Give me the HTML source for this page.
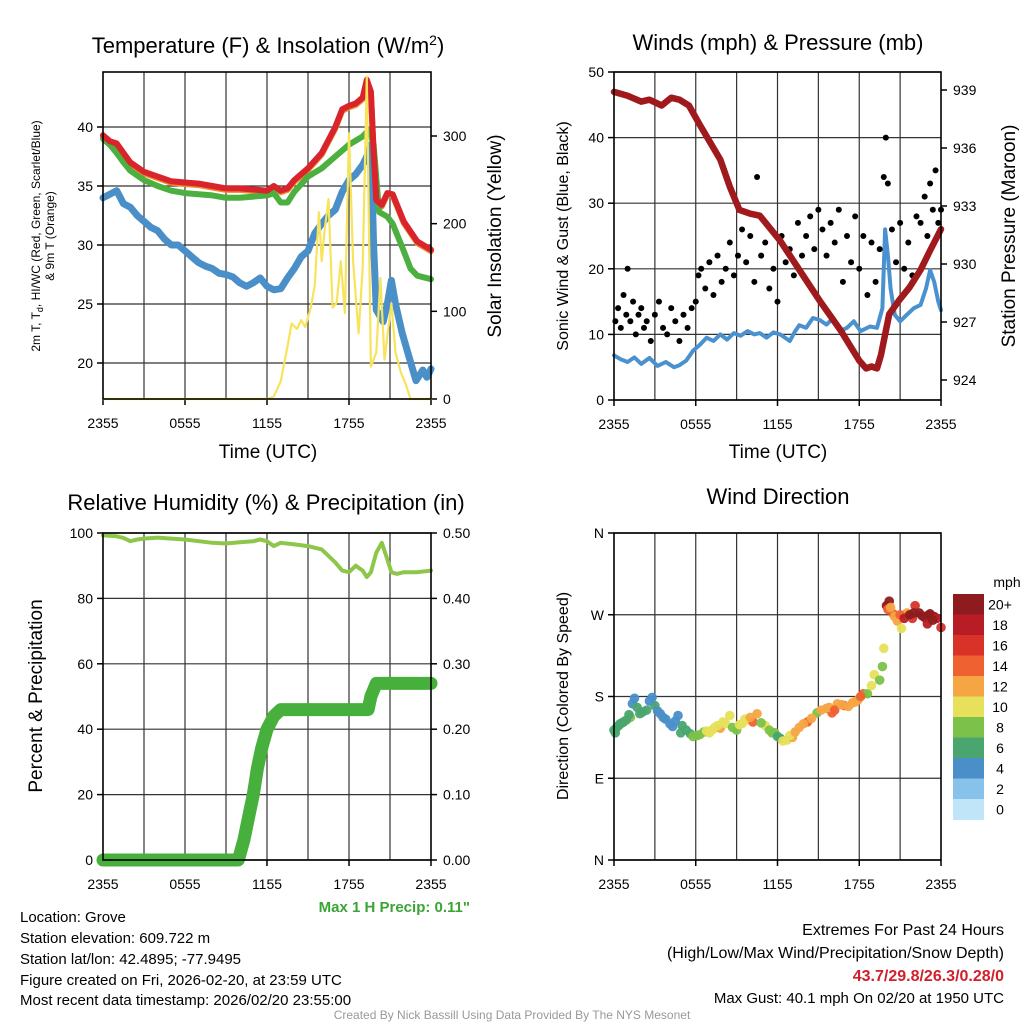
<!DOCTYPE html>
<html><head><meta charset="utf-8"><style>
body{margin:0;background:#fff}
svg{display:block;font-family:"Liberation Sans",sans-serif}
</style></head><body>
<svg id="c" width="1024" height="1024" viewBox="0 0 1024 1024">
<text x="268" y="53" font-size="22" text-anchor="middle">Temperature (F) &amp; Insolation (W/m<tspan dy="-8" font-size="14">2</tspan><tspan dy="8">)</tspan></text>
<text x="778" y="50" font-size="22" text-anchor="middle">Winds (mph) &amp; Pressure (mb)</text>
<text x="266" y="510" font-size="22" text-anchor="middle">Relative Humidity (%) &amp; Precipitation (in)</text>
<text x="778" y="504" font-size="22" text-anchor="middle">Wind Direction</text>
<g font-size="19" text-anchor="middle">
<text x="268" y="458">Time (UTC)</text>
<text x="778" y="458">Time (UTC)</text>
<text transform="translate(501,236) rotate(-90)">Solar Insolation (Yellow)</text>
<text transform="translate(1015,236) rotate(-90)">Station Pressure (Maroon)</text>
<text transform="translate(42,696) rotate(-90)">Percent &amp; Precipitation</text>
</g>
<g font-size="16" text-anchor="middle">
<text transform="translate(568,236) rotate(-90)">Sonic Wind &amp; Gust (Blue, Black)</text>
<text transform="translate(568,696) rotate(-90)">Direction (Colored By Speed)</text>
</g>
<g font-size="12" text-anchor="middle">
<text transform="translate(40,236) rotate(-90)">2m T, T<tspan dy="3" font-size="9">d</tspan><tspan dy="-3">, HI/WC (Red, Green, Scarlet/Blue)</tspan></text>
<text transform="translate(54,236) rotate(-90)">&amp; 9m T (Orange)</text>
</g>
<text x="470" y="912" font-size="15" font-weight="bold" fill="#3aa535" text-anchor="end">Max 1 H Precip: 0.11"</text>
<g font-size="15">
<text x="20" y="922">Location: Grove</text>
<text x="20" y="943">Station elevation: 609.722 m</text>
<text x="20" y="964">Station lat/lon: 42.4895; -77.9495</text>
<text x="20" y="985">Figure created on Fri, 2026-02-20, at 23:59 UTC</text>
<text x="20" y="1005">Most recent data timestamp: 2026/02/20 23:55:00</text>
</g>
<g font-size="16" text-anchor="end">
<text x="1004" y="935">Extremes For Past 24 Hours</text>
<text x="1004" y="958">(High/Low/Max Wind/Precipitation/Snow Depth)</text>
<text x="1004" y="981" fill="#d0202a" font-weight="bold">43.7/29.8/26.3/0.28/0</text>
<text x="1004" y="1003" font-size="15">Max Gust: 40.1 mph On 02/20 at 1950 UTC</text>
</g>
<text x="512" y="1019" font-size="12" fill="#999" text-anchor="middle">Created By Nick Bassill Using Data Provided By The NYS Mesonet</text>
</svg>
<script>
// ---- data ----
const xTickLabels=["2355","0555","1155","1755","2355"];
const tempTicks=[20,25,30,35,40];
const solarTicks=[0,100,200,300];
const windTicks=[0,10,20,30,40,50];
const presTicks=[924,927,930,933,936,939];
const rhTicks=[0,20,40,60,80,100];
const precipTickLabels=["0.00","0.10","0.20","0.30","0.40","0.50"];
const dirTickLabels=["N","E","S","W","N"];
const tempT=[0,0.5,1,1.5,2,3,4,5,6,7,8,9,10,11,12,12.5,13,13.5,14,15,16,16.5,17,17.5,18,18.5,19,19.3,19.6,19.8,20,20.4,20.8,21.2,22,23,24];
const tempV=[39.3,38.8,38.6,37.8,37,36.2,35.8,35.4,35.3,35.2,35,34.8,34.8,34.7,34.6,35,34.6,34.8,35.5,36.5,37.8,38.9,40,41.5,41.8,42,42.5,44,43,38,33.8,33.4,34.4,34.3,32,30.3,29.6];
const hiT=[0,0.5,1,1.5,2,3,4,5,6,7,8,9,10,11,12,12.5,13,13.5,14,15,16,17,18,19,19.5,19.8,20.2,20.8,21.2,22,22.5,23,24];
const hiV=[39,38.5,37.8,37,36.3,35.5,35,34.6,34.4,34.3,34.2,34,34,34.1,34.2,34.4,33.6,33.6,34.5,35.8,36.5,37.5,38.5,39.2,39.8,38.5,32.8,32.4,31.8,29.5,28,27.4,27.1];
const dewT=[0,1,1.5,2,2.5,3,3.5,4,4.5,5,5.5,6,6.5,7,7.5,8,8.5,9,9.5,10,10.5,11,11.5,12,12.5,13,13.5,14,14.5,15,15.5,16,16.5,17,17.5,18,18.5,19,19.3,19.6,19.8,20,20.5,20.8,21.1,21.4,21.9,22.4,22.9,23.4,23.7,24];
const dewV=[34,34.6,33.5,33.2,32.5,32,31.5,31.2,30.5,30,30,29.5,29,28.5,28.2,28,27.6,27.5,27.3,26.8,26.5,26.8,27.2,26.5,26.2,26.3,27.2,28,29,29.5,31,31.8,32.5,33,34.5,35.5,36,36.8,37.5,38.5,30,24.5,23.5,25,27,25,22.5,20.5,18.5,19.4,18.8,19.5];
const solT=[0,12,12.5,13,13.5,13.8,14.2,14.5,14.8,15.2,15.5,15.8,16,16.2,16.5,16.8,17.1,17.4,17.7,18,18.3,18.7,19,19.3,19.6,20,20.3,20.6,21.1,21.4,21.8,22.2,22.5,24];
const solV=[0,0,3,20,60,86,80,90,82,104,130,213,157,190,228,104,110,157,98,303,157,75,150,368,37,53,138,45,109,53,30,15,0,0];
const windT=[0,0.5,1,1.5,2,2.6,3.2,3.8,4.4,4.8,5.3,5.8,6.3,6.8,7.3,7.8,8.3,8.8,9.3,9.8,10.3,10.7,11.2,11.7,12.2,12.9,13.3,13.6,14.1,14.6,15.1,15.6,16.1,16.6,17.1,17.6,18.1,18.8,19.3,19.7,19.9,20.1,20.3,20.6,21,21.5,22,22.5,22.9,23.2,23.5,23.8,24];
const windV=[6.8,6.2,5.8,6.5,5.5,6.4,5.2,5.8,5,5.3,6,7.5,8.4,9.5,9,10,9.2,10.2,9.8,10.5,10,10.2,9.5,10.3,10,9,10.5,11.4,11,12.5,12.2,11.5,12.5,10.5,11,12,10.5,11.2,11,14,26,22,17,13,12,13,14,14.5,17,19.8,18,15,13.7];
const gustT=[0.1,0.3,0.5,0.7,0.9,1.0,1.2,1.4,1.6,1.8,2.0,2.2,2.4,2.7,3.0,3.3,3.6,3.9,4.2,4.5,4.8,5.1,5.4,5.7,6.0,6.2,6.4,6.7,7.0,7.3,7.6,7.9,8.2,8.5,8.8,9.1,9.4,9.7,10.0,10.3,10.5,10.8,11.1,11.4,11.7,12.0,12.3,12.6,12.9,13.2,13.5,13.8,14.1,14.4,14.7,15.0,15.3,15.6,15.9,16.2,16.5,16.8,17.1,17.4,17.7,18.0,18.3,18.6,18.9,19.2,19.5,19.8,19.95,20.1,20.4,20.7,21.0,21.3,21.6,21.9,22.2,22.5,22.8,23.0,23.2,23.4,23.6,23.8,24.0];
const gustV=[12,14,11,16,13,20,12,15,10,13,14,11,12,9,13,15,11,10,14,12,9,13,11,14,15,19,20,17,21,16,22,18,20,24,19,22,26,21,25,18,34,22,24,17,20,15,25,21,23,19,27,22,25,28,23,29,26,22,27,24,29,18,25,21,28,20,25,16,24,18,23,34,40,33,26,21,27,20,24,19,28,27,31,25,33,29,35,27,29];
const dirT=[0,0.2,0.44,0.7,1.2,1.5,1.9,2.4,2.8,3.0,3.4,3.8,4.1,4.7,5.0,5.3,6.1,6.6,7.0,7.4,7.8,8.2,8.5,9.0,9.4,9.8,10.2,10.5,11.1,11.4,11.8,12.2,12.7,13.1,13.6,14.2,14.9,15.6,16.0,16.4,16.9,17.5,17.9,18.3,18.6,18.9,19.1,19.5,19.7,19.8,20.0,20.2,20.5,20.8,21.1,21.5,21.9,22.1,22.4,22.8,23.0,23.2,23.5,23.7,24.0,
 0.1,0.35,0.6,0.9,1.1,1.35,1.7,2.1,2.6,3.2,3.6,4.3,4.5,4.9,5.6,5.8,6.3,6.8,7.2,7.6,8.0,8.7,9.2,9.6,10.0,10.8,11.6,12.0,12.4,12.9,13.3,13.9,14.5,15.2,15.8,16.2,16.7,17.2,17.7,18.1,20.1,20.3,20.6,21.0,21.3,21.7,22.0,22.6,23.1,23.4];
const dirV=[143,146,150,152,157,178,161,165,179,170,161,155,150,159,148,143,137,141,140,146,145,150,159,143,150,154,152,161,148,143,140,134,132,135,146,152,162,167,162,172,170,173,176,183,183,192,204,198,213,233,280,285,271,263,255,272,266,280,272,267,260,271,268,266,256,
 140,148,151,154,160,172,168,163,175,164,157,147,153,140,139,136,138,142,143,148,152,146,149,155,157,151,140,136,131,137,141,150,156,165,168,165,171,169,174,180,276,278,268,270,266,270,272,269,270,264];
const dirSpd=[6,6,7,7,8,4,6,6,4,6,4,5,4,4,6,6,8,9,10,10,12,11,10,8,10,10,14,12,10,8,9,6,10,12,12,14,8,12,14,12,14,12,12,14,8,10,10,8,8,10,21,21,14,12,10,12,16,16,21,21,18,21,20,18,16,
 6,6,6,7,7,4,6,6,5,4,4,5,4,6,7,8,9,10,10,11,10,9,10,11,12,9,8,7,10,11,12,13,12,12,13,14,12,13,12,14,14,12,13,14,18,20,21,20,21,20];
const spdColors=["#c1e5f8","#86c2ea","#4a8fc8","#4aa56f","#7cc24a","#e6e05a","#f6a545","#ef6130","#d93228","#b81c24","#8e1b1e"];
const spdLabels=["0","2","4","6","8","10","12","14","16","18","20+"];
const presT=[0,1,2,2.6,3.5,4.2,4.8,5.5,6.3,7.8,8.5,9.2,10,10.7,12.2,13.6,15.1,16.6,18,18.5,18.9,19.3,19.6,20.2,20.9,21.7,22.5,23.2,24];
const presV=[938.9,938.7,938.4,938.5,938.2,938.6,938.5,938.2,937.2,935.4,934,932.8,932.6,932.5,931.2,929.7,928.1,926.6,925,924.6,924.7,924.6,925.3,927.4,928.1,928.8,929.7,930.7,931.8];
const rhT=[0,1,1.5,2,2.5,3,4,5,6,7,8,9,10,11,11.5,12,12.5,13,14,15,16,16.5,17,17.5,18,18.5,19,19.3,19.6,20,20.4,20.8,21.1,21.5,22,23,24];
const rhV=[99.3,99,98.5,97.5,98,98.3,98.6,98.3,98,97.5,97,96.8,97.2,97.5,98,97.5,96,97,96.5,96,95,93,91,88.5,88,90,88.5,86.5,88,94,97,92,88,87.5,88,88,88.5];
const prT=[0,9.9,10.3,10.7,11,11.3,11.6,12,12.5,13,19.4,19.6,20,24];
const prV=[0,0,0.03,0.07,0.1,0.14,0.17,0.2,0.22,0.23,0.23,0.25,0.27,0.27];

// ---- drawing ----
const svg=document.getElementById('c');const NS='http://www.w3.org/2000/svg';
function mk(tag,at,parent){const e=document.createElementNS(NS,tag);for(const k in at)e.setAttribute(k,at[k]);(parent||svg).appendChild(e);return e;}
function lin(d0,d1,r0,r1){return v=>r0+(v-d0)/(d1-d0)*(r1-r0);}
const P1={x0:103,x1:431,y0:72,y1:399},P2={x0:614,x1:941,y0:72,y1:400},P3={x0:103,x1:431,y0:533,y1:860},P4={x0:614,x1:941,y0:533,y1:860};
function frame(P,name,yTicks,ys,fmt){
  const xs=lin(0,24,P.x0,P.x1);
  const g=mk('g',{});
  
  
  for(let h=3;h<24;h+=3){mk('line',{x1:xs(h),x2:xs(h),y1:P.y0,y2:P.y1,stroke:'#333','stroke-width':1.2},g);}
  yTicks.forEach((v,i)=>{const y=ys(v);mk('line',{x1:P.x0,x2:P.x1,y1:y,y2:y,stroke:'#333','stroke-width':1.2},g);
    mk('line',{x1:P.x0-6,x2:P.x0,y1:y,y2:y,stroke:'#000','stroke-width':1.5},g);
    const t=mk('text',{x:P.x0-10,y:y+5,'font-size':14,'text-anchor':'end'});t.textContent=fmt?fmt[i]:v;
    
    });
  xTickLabels.forEach((s,i)=>{const x=xs(i*6);
    mk('line',{x1:x,x2:x,y1:P.y1,y2:P.y1+6,stroke:'#000','stroke-width':1.5},g);
    const t=mk('text',{x:x,y:P.y1+29,'font-size':14,'text-anchor':'middle'});t.textContent=s;
    
    });
  return xs;
}
function border(P,name){const r=mk('rect',{x:P.x0,y:P.y0,width:P.x1-P.x0,height:P.y1-P.y0,fill:'none',stroke:'#000','stroke-width':1.6});
  
  }
function rightTicks(P,ticks,ys,labels,name){ticks.forEach((v,i)=>{const y=ys(v);mk('line',{x1:P.x1,x2:P.x1+6,y1:y,y2:y,stroke:'#000','stroke-width':1.5});
  const t=mk('text',{x:P.x1+12,y:y+5,'font-size':14});t.textContent=labels?labels[i]:v;
  
  });}
function path(T,V,xs,ys,color,w,name){const d=T.map((t,i)=>(i?'L':'M')+xs(t).toFixed(1)+','+ys(V[i]).toFixed(1)).join('');
  const p=mk('path',{d:d,fill:'none',stroke:color,'stroke-width':w,'stroke-linejoin':'round','stroke-linecap':'round'});
  
  return p;}

// Panel 1
const ysTemp=v=>127+(40-v)*11.8;
const ysSol=lin(0,300,399,136);
let xs=frame(P1,'temperature',tempTicks,ysTemp);
rightTicks(P1,solarTicks,ysSol,null,'solar');
path(tempT,tempV,xs,v=>ysTemp(v)+1.5,'#f08a30',6,'temp-9m-line');
path(dewT,dewV,xs,ysTemp,'#4a8fc8',7,'dewpoint-line');
path(hiT,hiV,xs,ysTemp,'#4bb03f',6,'heat-index-line');
path(tempT,tempV,xs,ysTemp,'#d8242a',6,'temperature-line');
path(solT,solV,xs,ysSol,'#f7e35c',2.2,'insolation-line');
border(P1,'temperature');

// Panel 2
const ysW=lin(0,50,400,72);const ysP=lin(924,939,380,90);
xs=frame(P2,'winds',windTicks,ysW);
rightTicks(P2,presTicks,ysP,null,'pressure');
path(windT,windV,xs,ysW,'#4a92cf',4,'sonic-wind-line');
gustT.forEach((t,i)=>{const c=mk('circle',{cx:xs(t),cy:ysW(gustV[i]),r:3,fill:'#000'});
  
  });
path(presT,presV,xs,ysP,'#a0191d',6.5,'pressure-line');
border(P2,'winds');

// Panel 3
const ysR=lin(0,100,860,533);const ysPr=lin(0,0.5,860,533);
xs=frame(P3,'humidity',rhTicks,ysR);
rightTicks(P3,[0,0.1,0.2,0.3,0.4,0.5],ysPr,precipTickLabels,'precip');
path(rhT,rhV,xs,ysR,'#8ec64a',4,'rh-line');
path(prT,prV,xs,ysPr,'#47b03c',13,'precip-line');
border(P3,'humidity');

// Panel 4
const ysD=lin(0,360,860,533);
xs=frame(P4,'direction',[0,90,180,270,360],ysD,dirTickLabels);
dirT.forEach((t,i)=>{const k=Math.max(0,Math.min(10,Math.floor(dirSpd[i]/2)));
  const c=mk('circle',{cx:xs(t),cy:ysD(dirV[i]),r:4.8,fill:spdColors[k],opacity:0.95});
  
  });
border(P4,'direction');
// colorbar
const cbTop=594,cbH=20.5;
spdColors.slice().reverse().forEach((col,i)=>{const r=mk('rect',{x:953,y:cbTop+i*cbH,width:31,height:cbH+0.5,fill:col});
  
  
  const t=mk('text',{x:1000,y:cbTop+i*cbH+cbH/2+5,'font-size':14,'text-anchor':'middle'});t.textContent=spdLabels[10-i];
  
  });
const mph=mk('text',{x:1007,y:587,'font-size':14,'text-anchor':'middle'});mph.textContent='mph';


</script>
</body></html>
